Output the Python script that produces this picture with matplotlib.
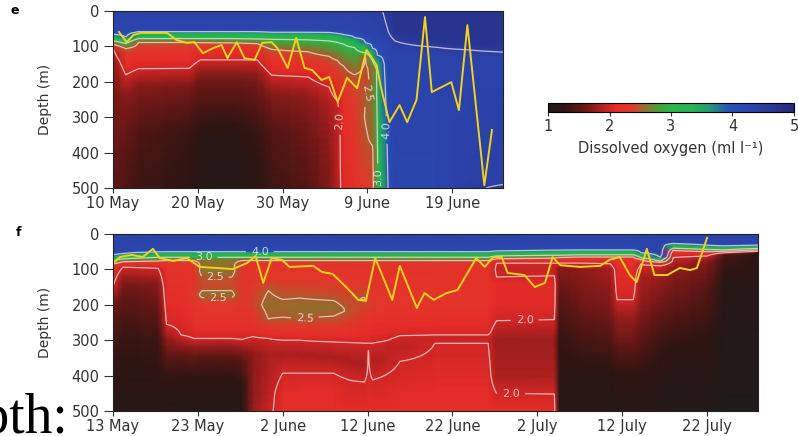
import numpy as np
import matplotlib
matplotlib.use("Agg")
import matplotlib.pyplot as plt
from matplotlib.colors import LinearSegmentedColormap, Normalize
from matplotlib.cm import ScalarMappable

plt.rcParams['font.family'] = ['DejaVu Sans']

# ---------------- data ----------------
# Panel e: days since 10 May; each column = list of (depth m, O2 ml/l) nodes
E_DAYS = [0, 1.5, 3, 9, 10.3, 14, 17, 18.7, 23, 25.5, 26.5, 27.2, 28.5, 29.8,
          30.6, 31.2, 31.8, 32.5, 33.3, 38, 42, 46]
E_PROFILES = [
    [(0, 4.4), (55, 4.3), (66, 4.0), (71, 3.5), (84, 3.0), (94, 2.5), (105, 2.0), (160, 1.7), (300, 1.6), (500, 1.55)],
    [(0, 4.4), (60, 4.3), (74, 4.0), (79, 3.5), (92, 3.0), (106, 2.5), (140, 2.2), (180, 2.0), (250, 1.7), (400, 1.5), (500, 1.45)],
    [(0, 4.4), (48, 4.3), (59, 4.0), (64, 3.5), (78, 3.0), (88, 2.5), (120, 2.25), (163, 2.0), (220, 1.7), (350, 1.45), (500, 1.35)],
    [(0, 4.4), (48, 4.3), (59, 4.0), (64, 3.5), (78, 3.0), (88, 2.5), (115, 2.25), (162, 2.0), (220, 1.65), (350, 1.3), (500, 1.22)],
    [(0, 4.4), (48, 4.3), (59, 4.0), (64, 3.5), (78, 3.0), (89, 2.5), (110, 2.2), (138, 2.0), (200, 1.6), (350, 1.22), (500, 1.15)],
    [(0, 4.4), (48, 4.3), (59, 4.0), (64, 3.5), (78, 3.0), (90, 2.5), (110, 2.2), (138, 2.0), (200, 1.6), (350, 1.18), (500, 1.12)],
    [(0, 4.4), (48, 4.3), (59, 4.0), (64, 3.5), (79, 3.0), (92, 2.5), (112, 2.2), (138, 2.0), (200, 1.65), (350, 1.3), (500, 1.22)],
    [(0, 4.4), (48, 4.3), (60, 4.0), (65, 3.5), (80, 3.0), (108, 2.5), (140, 2.25), (181, 2.0), (240, 1.7), (350, 1.45), (500, 1.35)],
    [(0, 4.4), (48, 4.3), (60, 4.0), (65, 3.5), (81, 3.0), (115, 2.5), (150, 2.25), (186, 2.0), (250, 1.75), (350, 1.6), (500, 1.5)],
    [(0, 4.4), (48, 4.3), (61, 4.0), (67, 3.5), (84, 3.0), (128, 2.5), (170, 2.25), (215, 2.0), (270, 1.85), (400, 1.75), (500, 1.7)],
    [(0, 4.4), (52, 4.3), (64, 4.0), (70, 3.5), (88, 3.0), (140, 2.5), (200, 2.25), (255, 2.0), (300, 1.93), (500, 1.92)],
    [(0, 4.4), (55, 4.3), (67, 4.0), (74, 3.5), (93, 3.0), (155, 2.5), (220, 2.3), (300, 2.12), (500, 2.08)],
    [(0, 4.4), (58, 4.32), (75, 4.0), (82, 3.5), (103, 3.0), (180, 2.5), (250, 2.35), (500, 2.25)],
    [(0, 4.42), (62, 4.35), (90, 4.0), (98, 3.5), (118, 3.0), (132, 2.5), (200, 2.4), (240, 2.5), (300, 2.52), (380, 2.45), (500, 2.35)],
    [(0, 4.45), (68, 4.35), (105, 4.0), (115, 3.5), (140, 3.0), (160, 2.6), (250, 2.62), (360, 2.55), (400, 2.45), (500, 2.4)],
    [(0, 4.48), (75, 4.35), (125, 4.0), (165, 3.1), (500, 2.95)],
    [(0, 4.5), (80, 4.35), (150, 3.9), (500, 3.45)],
    [(0, 4.62), (60, 4.5), (100, 4.3), (500, 4.05)],
    [(0, 4.75), (60, 4.7), (85, 4.5), (110, 4.35), (500, 4.3)],
    [(0, 4.75), (88, 4.7), (102, 4.5), (125, 4.35), (500, 4.3)],
    [(0, 4.75), (92, 4.7), (110, 4.5), (130, 4.35), (470, 4.4), (500, 4.45)],
    [(0, 4.75), (100, 4.7), (116, 4.5), (135, 4.35), (480, 4.45), (500, 4.55)],
]
E_LINE_DAYS = [0.7, 1.6, 2.4, 3.2, 6.4, 7.5, 8.7, 9.6, 10.6, 11.8, 12.8, 13.5, 14.6, 15.5,
               16.7, 17.6, 18.7, 19.4, 20.6, 21.6, 22.6, 23.5, 24.6, 25.5, 26.5, 27.6,
               28.8, 29.9, 31.1, 31.6, 32.6, 33.8, 34.7, 35.8, 36.8, 37.6, 39.9, 40.8,
               41.8, 43.8, 44.7]
E_LINE_DEPTH = [59, 88, 68, 62, 62, 82, 90, 88, 119, 105, 96, 133, 88, 133,
                138, 90, 88, 105, 161, 76, 161, 167, 195, 186, 257, 189,
                218, 110, 153, 215, 314, 266, 314, 251, 17, 229, 201, 280,
                40, 492, 336]
E_TICK_LABELS = ['10 May', '20 May', '30 May', '9 June', '19 June']

# Panel f: days since 13 May
F_TOP = [(0, 4.35), (40, 4.3), (50, 4.0), (55, 3.45), (66, 3.0), (75, 2.5), (88, 2.25)]
F_DAYS = [0, 1.2, 5.3, 6.3, 8, 9.5, 10.5, 14, 15.2, 16.5, 18.3, 20, 22, 26, 27.8,
          29.6, 30.1, 30.6, 33.8, 38, 44.2, 45.2, 52, 52.6, 55, 58.6, 59.4, 61.3,
          62.2, 64.5, 66, 70, 72, 76]
F_PROFILES = [
    [(0, 4.35), (50, 4.3), (60, 4.0), (65, 3.45), (76, 3.0), (85, 2.5), (96, 2.2), (150, 2.0), (200, 1.6), (350, 1.3), (500, 1.2)],
    [(0, 4.35), (45, 4.3), (55, 4.0), (60, 3.45), (70, 3.0), (78, 2.5), (85, 2.2), (93, 2.0), (150, 1.6), (300, 1.3), (500, 1.15)],
    [(0, 4.35), (42, 4.3), (51, 4.0), (56, 3.45), (66, 3.0), (76, 2.5), (86, 2.2), (96, 2.0), (150, 1.7), (300, 1.35), (500, 1.15)],
    F_TOP + [(200, 2.1), (255, 2.0), (320, 1.65), (400, 1.3), (500, 1.15)],
    F_TOP + [(200, 2.15), (285, 2.0), (350, 1.5), (420, 1.2), (500, 1.12)],
    F_TOP + [(140, 2.3), (170, 2.35), (250, 2.2), (295, 2.0), (350, 1.55), (420, 1.2), (500, 1.12)],
    [(0, 4.35), (40, 4.3), (50, 4.0), (55, 3.45), (66, 3.0), (75, 2.58), (105, 2.6), (130, 2.45), (148, 2.42), (172, 2.58), (190, 2.4), (250, 2.2), (295, 2.0), (350, 1.5), (420, 1.2), (500, 1.12)],
    [(0, 4.35), (40, 4.3), (50, 4.0), (55, 3.45), (66, 3.0), (75, 2.58), (105, 2.6), (130, 2.45), (148, 2.42), (172, 2.58), (190, 2.4), (250, 2.2), (295, 2.0), (350, 1.5), (420, 1.2), (500, 1.12)],
    F_TOP + [(200, 2.3), (260, 2.15), (298, 2.0), (360, 1.5), (430, 1.25), (500, 1.15)],
    F_TOP + [(150, 2.35), (200, 2.4), (250, 2.25), (290, 2.0), (340, 1.75), (450, 1.75), (500, 1.8)],
    F_TOP + [(140, 2.4), (160, 2.5), (200, 2.58), (240, 2.5), (262, 2.35), (295, 2.0), (340, 1.85), (450, 1.92), (500, 1.95)],
    F_TOP + [(170, 2.45), (200, 2.55), (235, 2.5), (260, 2.35), (300, 2.0), (340, 1.85), (393, 2.0), (450, 2.1), (500, 2.1)],
    F_TOP + [(160, 2.42), (181, 2.5), (210, 2.58), (240, 2.5), (262, 2.35), (300, 2.0), (340, 1.85), (393, 2.0), (450, 2.12), (500, 2.12)],
    F_TOP + [(170, 2.42), (188, 2.5), (210, 2.58), (232, 2.5), (262, 2.35), (305, 2.0), (350, 1.85), (393, 2.0), (450, 2.12), (500, 2.12)],
    F_TOP + [(200, 2.44), (218, 2.48), (240, 2.4), (265, 2.3), (306, 2.0), (360, 1.85), (412, 2.0), (500, 2.1)],
    F_TOP + [(167, 2.42), (183, 2.53), (200, 2.42), (300, 2.05), (308, 2.0), (370, 1.85), (418, 2.0), (500, 2.1)],
    F_TOP + [(200, 2.4), (300, 2.05), (308, 2.0), (318, 1.97), (328, 2.0), (500, 2.1)],
    F_TOP + [(200, 2.35), (300, 2.05), (308, 2.0), (360, 1.86), (412, 2.0), (500, 2.1)],
    F_TOP + [(200, 2.3), (280, 2.05), (287, 2.0), (320, 1.9), (360, 2.0), (500, 2.15)],
    F_TOP + [(200, 2.3), (278, 2.05), (285, 2.0), (296, 1.96), (308, 2.0), (500, 2.15)],
    F_TOP + [(200, 2.25), (278, 2.05), (285, 2.0), (296, 1.96), (308, 2.0), (500, 2.15)],
    [(0, 4.35), (40, 4.3), (48, 4.0), (53, 3.45), (62, 3.0), (70, 2.5), (76, 2.25), (82, 2.0), (100, 1.95), (122, 2.0), (140, 2.1), (200, 2.1), (245, 2.0), (300, 1.8), (400, 1.85), (450, 2.0), (500, 2.1)],
    [(0, 4.35), (38, 4.3), (46, 4.0), (51, 3.45), (60, 3.0), (68, 2.5), (75, 2.25), (82, 2.0), (100, 1.93), (118, 2.0), (140, 2.08), (200, 2.08), (242, 2.0), (300, 1.8), (400, 1.85), (452, 2.0), (500, 2.1)],
    [(0, 4.35), (38, 4.3), (46, 4.0), (51, 3.45), (60, 3.0), (66, 2.5), (72, 2.25), (82, 2.0), (100, 1.7), (200, 1.45), (300, 1.3), (400, 1.2), (500, 1.15)],
    [(0, 4.35), (38, 4.3), (45, 4.0), (50, 3.45), (59, 3.0), (65, 2.5), (72, 2.25), (82, 2.0), (100, 1.75), (200, 1.6), (300, 1.4), (400, 1.2), (500, 1.15)],
    [(0, 4.35), (38, 4.3), (45, 4.0), (50, 3.45), (59, 3.0), (65, 2.5), (72, 2.25), (82, 2.02), (100, 1.85), (200, 1.7), (300, 1.45), (400, 1.2), (500, 1.15)],
    [(0, 4.35), (38, 4.3), (45, 4.0), (50, 3.45), (59, 3.0), (65, 2.5), (72, 2.3), (100, 2.1), (160, 2.05), (186, 2.0), (220, 1.85), (300, 1.6), (400, 1.25), (500, 1.15)],
    [(0, 4.35), (38, 4.3), (45, 4.0), (50, 3.45), (59, 3.0), (65, 2.5), (72, 2.3), (100, 2.1), (160, 2.05), (186, 2.0), (220, 1.85), (300, 1.6), (400, 1.25), (500, 1.15)],
    [(0, 4.35), (42, 4.3), (53, 4.0), (58, 3.45), (67, 3.0), (72, 2.5), (78, 2.25), (84, 2.0), (120, 1.85), (200, 1.75), (300, 1.5), (400, 1.25), (500, 1.15)],
    [(0, 4.35), (55, 4.3), (66, 4.0), (70, 3.45), (77, 3.0), (80, 2.5), (84, 2.2), (90, 2.0), (120, 1.8), (200, 1.6), (300, 1.35), (400, 1.2), (500, 1.12)],
    [(0, 4.4), (22, 4.3), (27, 4.0), (31, 3.45), (40, 3.0), (46, 2.5), (54, 2.2), (66, 2.0), (100, 1.75), (200, 1.55), (300, 1.3), (400, 1.15), (500, 1.1)],
    [(0, 4.4), (26, 4.3), (32, 4.0), (36, 3.45), (44, 3.0), (50, 2.5), (55, 2.2), (62, 2.0), (80, 1.7), (150, 1.5), (300, 1.25), (500, 1.1)],
    [(0, 4.4), (28, 4.3), (34, 4.0), (38, 3.45), (45, 3.0), (49, 2.5), (53, 2.0), (62, 1.4), (150, 1.15), (500, 1.05)],
    [(0, 4.4), (26, 4.3), (32, 4.0), (35, 3.45), (41, 3.0), (45, 2.5), (49, 2.0), (55, 1.2), (500, 1.05)],
]
F_LINE_DAYS = [0.2, 0.8, 2.2, 3.5, 4.7, 5.5, 7.1, 8.7, 10.2, 12.2, 14.1, 15.8, 16.8, 17.7,
               18.7, 19.9, 20.8, 23.6, 24.6, 25.9, 27.6, 28.9, 29.8, 30.9, 32.9, 33.8,
               35.8, 36.7, 37.8, 39.3, 40.6, 42.8, 43.8, 44.8, 45.8, 46.5, 48.5, 49.7,
               50.9, 51.8, 52.7, 55.0, 57.4, 58.5, 59.7, 60.9, 61.7, 62.9, 63.8, 65.3,
               66.8, 68.0, 68.8, 70.0]
F_LINE_DEPTH = [79, 65, 59, 65, 42, 68, 76, 68, 93, 96, 99, 82, 62, 138,
                68, 73, 93, 90, 107, 113, 153, 186, 189, 68, 186, 90,
                209, 167, 186, 167, 158, 68, 93, 65, 65, 110, 116, 150,
                138, 65, 88, 93, 90, 73, 65, 116, 136, 42, 116, 116,
                96, 102, 96, 11]
F_TICK_LABELS = ['13 May', '23 May', '2 June', '12 June', '22 June', '2 July', '12 July', '22 July']

CONTOUR_LEVELS = [2.0, 2.5, 3.0, 4.0, 4.5]
E_LABEL_POS = [(26.7, 310), (29.9, 232), (32.6, 336), (31.3, 470)]
F_LABEL_POS = [(10.7, 64), (17.3, 52), (12.0, 110), (12.4, 172), (22.6, 238), (48.5, 243), (46.9, 450)]

CBAR_TICKS = [1, 2, 3, 4, 5]

# ---------------- colormap ----------------
cmap_nodes = [
    (1.0, '#1c1c1c'), (1.25, '#2e1512'), (1.5, '#5a1614'), (1.75, '#8e1c1a'),
    (1.95, '#c82424'), (2.1, '#e42c28'), (2.35, '#e2382a'), (2.55, '#9a6a2c'),
    (2.8, '#48a03a'), (3.0, '#2cb848'), (3.35, '#24b450'), (3.65, '#1e9a78'),
    (3.9, '#2658b4'), (4.1, '#2a4cb8'), (4.5, '#2a3ea2'), (5.0, '#262a78'),
]
cmap = LinearSegmentedColormap.from_list(
    'oxy', [((v - 1) / 4.0, c) for v, c in cmap_nodes])
norm = Normalize(vmin=1, vmax=5)

Z = np.arange(0, 500.1, 2.5)


def build_field(profiles):
    V = np.empty((len(Z), len(profiles)))
    for j, p in enumerate(profiles):
        d = [a for a, b in p]
        v = [b for a, b in p]
        V[:, j] = np.interp(Z, d, v)
    return V


TEXT = '#333333'


def draw_panel(ax, days, profiles, line_d, line_z, xmax, ticklabels, label_pos):
    V = build_field(profiles)
    ax.pcolormesh(days, Z, V, shading='gouraud', cmap=cmap, norm=norm, rasterized=True)
    cs = ax.contour(days, Z, V, levels=CONTOUR_LEVELS, colors='#f6e4e4',
                    linewidths=0.9, alpha=0.75)
    ax.clabel(cs, manual=label_pos, inline=True, fmt='%.1f', fontsize=8,
              colors='white')
    ax.plot(line_d, line_z, color='#f2d21c', lw=1.4)
    ax.set_xlim(0, xmax)
    ax.set_ylim(500, 0)
    ax.set_xticks(np.arange(len(ticklabels)) * 10)
    ax.set_xticklabels(ticklabels)
    ax.set_yticks([0, 100, 200, 300, 400, 500])
    ax.set_ylabel('Depth (m)', fontsize=10, color=TEXT, labelpad=14)
    ax.tick_params(direction='out', width=0.8, labelsize=10.5, colors=TEXT)
    ax.tick_params(axis='y', length=6.5, pad=3)
    ax.tick_params(axis='x', length=3.5, pad=2)
    for s in ax.spines.values():
        s.set_linewidth(0.8)
        s.set_color('#222222')


fig = plt.figure(figsize=(7.98, 4.36), dpi=100)

ax_e = fig.add_axes([113 / 798, 1 - 188 / 436, 390 / 798, 177 / 436])
draw_panel(ax_e, E_DAYS, E_PROFILES, E_LINE_DAYS, E_LINE_DEPTH, 46,
           E_TICK_LABELS, E_LABEL_POS)

ax_f = fig.add_axes([113 / 798, 1 - 411 / 436, 645 / 798, 177 / 436])
draw_panel(ax_f, F_DAYS, F_PROFILES, F_LINE_DAYS, F_LINE_DEPTH, 76,
           F_TICK_LABELS, F_LABEL_POS)

cax = fig.add_axes([548 / 798, 1 - 112 / 436, 246 / 798, 9 / 436])
cb = fig.colorbar(ScalarMappable(norm=norm, cmap=cmap), cax=cax,
                  orientation='horizontal', ticks=CBAR_TICKS)
cb.ax.tick_params(length=3, width=0.8, labelsize=10.5, colors=TEXT, pad=2)
cb.outline.set_linewidth(0.8)
cb.set_label('Dissolved oxygen (ml l\u207b\u00b9)', fontsize=10.5, color=TEXT, labelpad=5)

fig.text(15 / 798, 1 - 10 / 436, 'e', fontsize=9, weight='bold', va='center', ha='center')
fig.text(18 / 798, 1 - 233 / 436, 'f', fontsize=9, weight='bold', va='center', ha='center')

fig.text(68 / 798, 1 - 433 / 436, 'Depth:', family='Liberation Serif',
         fontsize=40, ha='right', va='baseline', color='black')

fig.savefig('out.png', dpi=100)
